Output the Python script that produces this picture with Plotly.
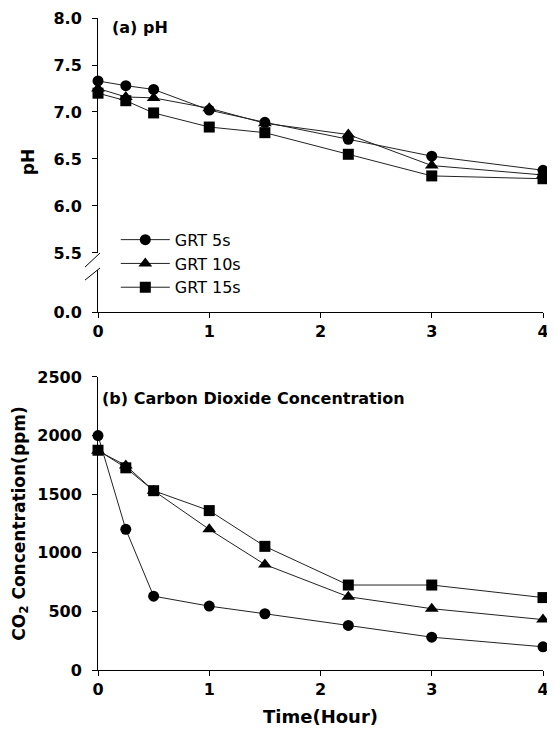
import plotly.graph_objects as go

# ---- data ----
time_h = [0, 0.25, 0.5, 1, 1.5, 2.25, 3, 4]
series_names = ["GRT 5s", "GRT 10s", "GRT 15s"]
ph_5s = [7.33, 7.28, 7.24, 7.02, 6.89, 6.71, 6.53, 6.38]
ph_10s = [7.25, 7.16, 7.15, 7.04, 6.88, 6.76, 6.43, 6.33]
ph_15s = [7.20, 7.12, 6.99, 6.84, 6.78, 6.55, 6.32, 6.29]
co2_5s = [2000, 1200, 630, 545, 480, 380, 280, 198]
co2_10s = [1870, 1745, 1530, 1200, 900, 625, 523, 430]
co2_15s = [1875, 1725, 1530, 1360, 1055, 725, 725, 618]
ph_ticks_upper = [5.5, 6.0, 6.5, 7.0, 7.5, 8.0]
ph_ticks_lower = [0.0]
co2_ticks = [0, 500, 1000, 1500, 2000, 2500]
x_ticks = [0, 1, 2, 3, 4]

symbols = ["circle", "triangle-up", "square"]
sizes = [11, 12, 11]
LINE = "#222222"
FONT_B = "DejaVu Sans"

fig = go.Figure()
for name, ph, sym, sz in zip(series_names, [ph_5s, ph_10s, ph_15s], symbols, sizes):
    fig.add_trace(go.Scatter(
        x=time_h, y=ph, name=name, mode="lines+markers",
        line=dict(color=LINE, width=1),
        marker=dict(symbol=sym, size=sz, color="black"),
        xaxis="x", yaxis="y3", cliponaxis=False, showlegend=True))
# keep lower (broken) pH axis segment alive, nothing visible drawn
fig.add_trace(go.Scatter(x=[time_h[0]], y=[ph_ticks_lower[0]], mode="markers",
                         marker=dict(opacity=0), xaxis="x", yaxis="y2",
                         showlegend=False, hoverinfo="skip"))
for name, co2, sym, sz in zip(series_names, [co2_5s, co2_10s, co2_15s], symbols, sizes):
    fig.add_trace(go.Scatter(
        x=time_h, y=co2, name=name, mode="lines+markers",
        line=dict(color=LINE, width=1),
        marker=dict(symbol=sym, size=sz, color="black"),
        xaxis="x2", yaxis="y4", cliponaxis=False, showlegend=False))

tickfont = dict(family=FONT_B, size=16, color="black", weight="bold")
titlefont = dict(family=FONT_B, size=17, color="black", weight="bold")
common_axis = dict(showline=True, linecolor="black", linewidth=1, ticks="outside",
                   ticklen=5, tickcolor="black", showgrid=False, zeroline=False,
                   tickfont=tickfont, automargin=False)

fig.update_layout(
    width=547, height=723,
    margin=dict(l=90, r=12, t=10, b=61),
    paper_bgcolor="white", plot_bgcolor="white",
    xaxis=dict(domain=[0, 1], anchor="y2", range=[0, 4], tickvals=x_ticks,
               ticktext=[str(v) for v in x_ticks], **common_axis),
    yaxis2=dict(domain=[0.549, 0.6135], anchor="x", range=[0, 0.447],
                tickvals=ph_ticks_lower, ticktext=["0.0"], ticklabelstandoff=7,
                **common_axis),
    yaxis3=dict(domain=[0.6396, 1.0], anchor="x", range=[5.5, 8.0],
                tickvals=ph_ticks_upper, ticktext=[f"{v:.1f}" for v in ph_ticks_upper],
                ticklabelstandoff=7,
                **common_axis),
    xaxis2=dict(domain=[0, 1], anchor="y4", range=[0, 4], tickvals=x_ticks,
                ticktext=[str(v) for v in x_ticks],
                title=dict(text="Time(Hour)", font=dict(family=FONT_B, size=18, color="black", weight="bold"), standoff=12),
                **common_axis),
    yaxis4=dict(domain=[0, 0.4494], anchor="x2", range=[0, 2500],
                tickvals=co2_ticks, ticktext=[str(v) for v in co2_ticks],
                ticklabelstandoff=7,
                title=dict(text="CO<sub>2</sub> Concentration(ppm)", font=titlefont, standoff=7),
                **common_axis),
    legend=dict(x=0.04, y=0.686, xanchor="left", yanchor="top",
                font=dict(family="DejaVu Sans", size=16, color="black"),
                bgcolor="rgba(0,0,0,0)", itemwidth=49, tracegroupgap=0),
    showlegend=True,
)

fig.add_annotation(text="pH", x=-0.157, y=0.779, xref="paper", yref="paper",
                   xanchor="center", yanchor="middle", textangle=-90, showarrow=False,
                   font=titlefont)
fig.add_annotation(text="(a) pH", x=0.027, y=0.9847, xref="paper", yref="paper",
                   xanchor="left", yanchor="middle", showarrow=False,
                   font=dict(family=FONT_B, size=16, color="black", weight="bold"))
fig.add_annotation(text="(b) Carbon Dioxide Concentration", x=0.0045, y=0.417,
                   xref="paper", yref="paper", xanchor="left", yanchor="middle",
                   showarrow=False,
                   font=dict(family=FONT_B, size=16, color="black", weight="bold"))

# axis break marks
for y0, y1 in [(0.618, 0.6396), (0.598, 0.6166)]:
    fig.add_shape(type="line", xref="paper", yref="paper", x0=-0.0292, x1=0.0045,
                  y0=y0, y1=y1, line=dict(color="black", width=1))

fig.write_html("out.html")
